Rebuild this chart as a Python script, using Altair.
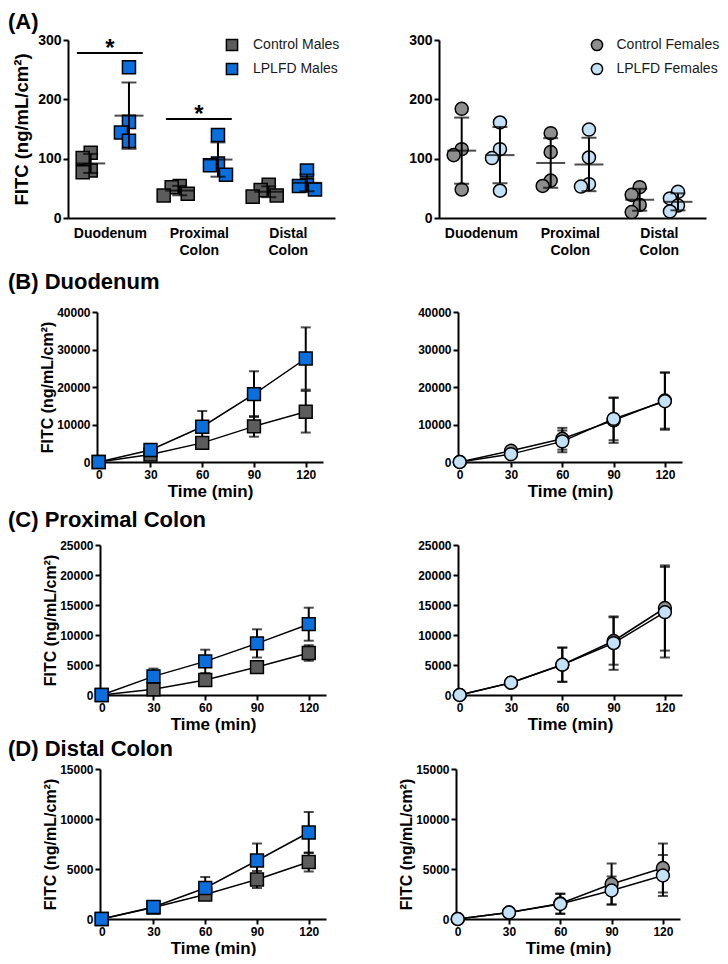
import json
import altair as alt
import pandas as pd
import numpy as np

FONT = "Liberation Sans"

# ---------------- Panel A: individual animals (ng/mL/cm2) ----------------
regions = ["Duodenum", "Proximal Colon", "Distal Colon"]
control_males = [[110, 101, 80, 77], [54, 52, 41, 38], [56, 47, 38, 36]]
lplfd_males = [[254, 162, 144, 130], [140, 92, 89, 73], [80, 55, 54, 48]]
control_females = [[184, 116, 106, 48], [143, 111, 63, 54], [52, 39, 22, 10]]
lplfd_females = [[161, 116, 101, 46], [149, 102, 57, 53], [44, 33, 21, 11]]
sig_regions = [0, 1]
sig_heights = [278, 167]

male_groups = ["Control Males", "LPLFD Males"]
female_groups = ["Control Females", "LPLFD Females"]
male_colors = ["#5c5c5c", "#0a6fdc"]
female_colors = ["#8e8e8e", "#c4e2f7"]

# ---------------- Panels B-D: time courses (mean, SD) ----------------
time_min = [0, 30, 60, 90, 120]

duod_ctrl_m_mean = [0, 2000, 5100, 9500, 13400]
duod_ctrl_m_sd = [0, 400, 1000, 2750, 5550]
duod_lplfd_m_mean = [0, 3200, 9400, 18100, 27600]
duod_lplfd_m_sd = [0, 500, 4200, 6100, 8300]
duod_ctrl_f_mean = [0, 3000, 6200, 11100, 16400]
duod_ctrl_f_sd = [0, 500, 2900, 6000, 7500]
duod_lplfd_f_mean = [0, 2100, 5500, 11500, 16200]
duod_lplfd_f_sd = [0, 400, 2900, 5700, 7600]

prox_ctrl_m_mean = [0, 950, 2500, 4650, 7000]
prox_ctrl_m_sd = [0, 600, 700, 500, 1300]
prox_lplfd_m_mean = [0, 3100, 5600, 8600, 11800]
prox_lplfd_m_sd = [0, 1300, 1950, 2350, 2750]
prox_ctrl_f_mean = [0, 2050, 5050, 9000, 14500]
prox_ctrl_f_sd = [0, 300, 2850, 3950, 7100]
prox_lplfd_f_mean = [0, 2050, 5050, 8650, 13800]
prox_lplfd_f_sd = [0, 300, 2850, 4450, 7550]

dist_ctrl_m_mean = [0, 1150, 2450, 3950, 5700]
dist_ctrl_m_sd = [0, 150, 300, 850, 950]
dist_lplfd_m_mean = [0, 1200, 3100, 5850, 8650]
dist_lplfd_m_sd = [0, 150, 1100, 1700, 2050]
dist_ctrl_f_mean = [0, 650, 1550, 3500, 5100]
dist_ctrl_f_sd = [0, 100, 1000, 2050, 2450]
dist_lplfd_f_mean = [0, 650, 1500, 2850, 4350]
dist_lplfd_f_sd = [0, 100, 1000, 1400, 2050]

YTITLE = "FITC (ng/mL/cm\u00b2)"

# ---------------- layout (pixel ranges inside each row) ----------------
ROW_W = 638
GROUP_SHIFT = 0.215


def swarm(vals, px_per_unit, diam=12.0, step=0.09):
    """Spread overlapping points sideways (scatter-dot style)."""
    order = sorted(range(len(vals)), key=lambda i: -vals[i])
    slots = [0, -1, 1, -2, 2]
    placed = []
    off = [0] * len(vals)
    for i in order:
        for s in slots:
            if all(ps != s or abs(pv - vals[i]) * px_per_unit >= diam for ps, pv in placed):
                off[i] = s
                placed.append((s, vals[i]))
                break
    return [o * step for o in off]


def dot_panel(groups_data, names, colors, shape, ytitle, xr, legend_x, label_offset, sig=False):
    yr = [178, 0]
    pts, summ = [], []
    for gi, (name, data) in enumerate(zip(names, groups_data)):
        shift = (-1 if gi == 0 else 1) * GROUP_SHIFT
        for r, vals in enumerate(data):
            offs = swarm(vals, (yr[0] - yr[1]) / 300)
            for v, o in zip(vals, offs):
                pts.append({"group": name, "x": r + shift + o, "v": v})
            m = float(np.mean(vals))
            s = float(np.std(vals, ddof=1))
            summ.append({"group": name, "x": r + shift, "mean": m, "lo": m - s, "hi": m + s})
    pdf = pd.DataFrame(pts)
    sdf = pd.DataFrame(summ)

    xsc = alt.Scale(domain=[-0.47, 2.53], range=xr, nice=False, zero=False)
    ysc = alt.Scale(domain=[0, 300], range=yr, nice=False)
    label_expr = "split(" + json.dumps(regions).replace('"', "'") + "[datum.value], ' ')"
    xax = alt.Axis(orient="bottom", values=[0, 1, 2], labelExpr=label_expr, ticks=False,
                   labelFontSize=14, labelPadding=8, labelLineHeight=17, title=None, labelFlush=False)
    if ytitle:
        yax = alt.Axis(orient="left", offset=-xr[0], values=[0, 100, 200, 300], title=ytitle,
                       titleFontSize=18.5, labelFontSize=14, titlePadding=6)
    else:
        yax = alt.Axis(orient="left", offset=-xr[0], values=[0, 100, 200, 300], title=None,
                       labelFontSize=14)

    def X(f):
        return alt.X(f, scale=xsc, axis=xax)

    def Y(f):
        return alt.Y(f, scale=ysc, axis=yax)

    points = alt.Chart(pdf).mark_point(
        shape=shape, filled=True, size=170, stroke="black", strokeWidth=1.5, opacity=1
    ).encode(
        x=X("x:Q"), y=Y("v:Q"),
        color=alt.Color("group:N", scale=alt.Scale(domain=names, range=colors),
                        legend=alt.Legend(title=None, orient="none", legendX=legend_x, legendY=-2,
                                          symbolType=shape, symbolSize=125,
                                          symbolStrokeColor="black", symbolStrokeWidth=1.5,
                                          labelFont=FONT, labelFontSize=14, labelFontWeight="normal",
                                          labelColor="#1a1a1a", labelOffset=label_offset, rowPadding=6)),
    )
    means = alt.Chart(sdf).mark_tick(orient="horizontal", size=29, thickness=2, color="black").encode(
        x=X("x:Q"), y=Y("mean:Q"))
    bars = alt.Chart(sdf).mark_rule(color="black", strokeWidth=2).encode(
        x=X("x:Q"), y=Y("lo:Q"), y2="hi:Q")
    caps = alt.Chart(sdf).transform_fold(["lo", "hi"], as_=["k", "val"]).mark_tick(
        orient="horizontal", size=15, thickness=2, color="black").encode(x=X("x:Q"), y=Y("val:Q"))
    layers = [points, means, bars, caps]
    if sig:
        gdf = pd.DataFrame({"xc": sig_regions, "y": sig_heights})
        gdf["x1"] = gdf["xc"] - 0.37
        gdf["x2"] = gdf["xc"] + 0.37
        line = alt.Chart(gdf).mark_rule(color="black", strokeWidth=2).encode(
            x=X("x1:Q"), x2="x2:Q", y=Y("y:Q"))
        star = alt.Chart(gdf).mark_text(text="*", font=FONT, fontWeight="bold", fontSize=24,
                                        baseline="alphabetic", dy=3, color="black").encode(
            x=X("xc:Q"), y=Y("y:Q"))
        layers += [line, star]
    return alt.layer(*layers)


def time_panel(series, names, colors, shape, ymax, ystep, ytitle, xr, yr):
    rows = []
    for name, (mean, sd) in zip(names, series):
        for t, m, s in zip(time_min, mean, sd):
            rows.append({"group": name, "t": t, "mean": m, "lo": m - s, "hi": m + s, "sd": s})
    df = pd.DataFrame(rows)
    xsc = alt.Scale(domain=[-1, 130], range=xr, nice=False, zero=False)
    ysc = alt.Scale(domain=[0, ymax], range=yr, nice=False)
    xax = alt.Axis(orient="bottom", values=time_min, title="Time (min)", titleFontSize=17,
                   labelFontSize=12, labelFlush=False, titlePadding=3)
    yvals = list(range(0, ymax + 1, ystep))
    if ytitle:
        yax = alt.Axis(orient="left", offset=-xr[0], values=yvals, format="d", title=ytitle,
                       titleFontSize=16, labelFontSize=12, titlePadding=1)
    else:
        yax = alt.Axis(orient="left", offset=-xr[0], values=yvals, format="d", title=None,
                       labelFontSize=12)

    def X(f):
        return alt.X(f, scale=xsc, axis=xax)

    def Y(f):
        return alt.Y(f, scale=ysc, axis=yax)

    base = alt.Chart(df)
    line = base.mark_line(color="black", strokeWidth=1.5).encode(x=X("t:Q"), y=Y("mean:Q"), detail="group:N")
    err = base.transform_filter("datum.sd > 0")
    bars = err.mark_rule(color="black", strokeWidth=2).encode(x=X("t:Q"), y=Y("lo:Q"), y2="hi:Q")
    caps = err.transform_fold(["lo", "hi"], as_=["k", "val"]).mark_tick(
        orient="horizontal", size=10, thickness=2, color="black").encode(x=X("t:Q"), y=Y("val:Q"))
    pts = base.mark_point(shape=shape, filled=True, size=165, stroke="black", strokeWidth=1.5,
                          opacity=1).encode(
        x=X("t:Q"), y=Y("mean:Q"),
        color=alt.Color("group:N", scale=alt.Scale(domain=names, range=colors), legend=None))
    return alt.layer(line, bars, caps, pts)


def row(left, right, height, title, offset):
    t = alt.TitleParams(title, anchor="start", frame="group", fontSize=22, font=FONT,
                        fontWeight="bold", color="black", baseline="bottom", dx=-60, offset=offset)
    return alt.layer(left, right).resolve_scale(
        color="independent", x="independent", y="independent"
    ).resolve_axis(x="independent", y="independent").resolve_legend(color="independent").properties(
        width=ROW_W, height=height, title=t)


A_l = dot_panel([control_males, lplfd_males], male_groups, male_colors, "square", YTITLE,
                [0, 267], 157, 14, sig=True)
A_r = dot_panel([control_females, lplfd_females], female_groups, female_colors, "circle", None,
                [371, 638], 522, 12.5)

B_l = time_panel([(duod_ctrl_m_mean, duod_ctrl_m_sd), (duod_lplfd_m_mean, duod_lplfd_m_sd)],
                 male_groups, male_colors, "square", 40000, 10000, YTITLE, [29, 255], [170, 20])
B_r = time_panel([(duod_ctrl_f_mean, duod_ctrl_f_sd), (duod_lplfd_f_mean, duod_lplfd_f_sd)],
                 female_groups, female_colors, "circle", 40000, 10000, None, [390, 614], [170, 20])
C_l = time_panel([(prox_ctrl_m_mean, prox_ctrl_m_sd), (prox_lplfd_m_mean, prox_lplfd_m_sd)],
                 male_groups, male_colors, "square", 25000, 5000, YTITLE, [32, 258], [159, 9])
C_r = time_panel([(prox_ctrl_f_mean, prox_ctrl_f_sd), (prox_lplfd_f_mean, prox_lplfd_f_sd)],
                 female_groups, female_colors, "circle", 25000, 5000, None, [390, 614], [159, 9])
D_l = time_panel([(dist_ctrl_m_mean, dist_ctrl_m_sd), (dist_lplfd_m_mean, dist_lplfd_m_sd)],
                 male_groups, male_colors, "square", 15000, 5000, YTITLE, [32, 258], [150, 0])
D_r = time_panel([(dist_ctrl_f_mean, dist_ctrl_f_sd), (dist_lplfd_f_mean, dist_lplfd_f_sd)],
                 female_groups, female_colors, "circle", 15000, 5000, YTITLE, [388, 612], [150, 0])

rowA = row(A_l, A_r, 178, "(A)", -22.5)
rowB = row(B_l, B_r, 170, "(B) Duodenum", -24)
rowC = row(C_l, C_r, 159, "(C) Proximal Colon", -17.5)
rowD = row(D_l, D_r, 150, "(D) Distal Colon", -19.5)

chart = alt.vconcat(rowA, rowB, rowC, rowD, spacing=74, bounds="flush").resolve_scale(
    color="independent", x="independent", y="independent"
).resolve_legend(color="independent").properties(
    padding={"left": 0, "top": 2, "right": 0, "bottom": 0}
).configure_axis(
    domainColor="black", domainWidth=2, tickColor="black", tickWidth=2, tickSize=5,
    labelColor="black", labelFont=FONT, labelFontWeight="bold", labelPadding=2,
    titleFont=FONT, titleFontWeight="bold", titleColor="black", grid=False,
).configure_view(stroke=None)

chart.save("out.html", embed_options={"renderer": "svg", "actions": False})
